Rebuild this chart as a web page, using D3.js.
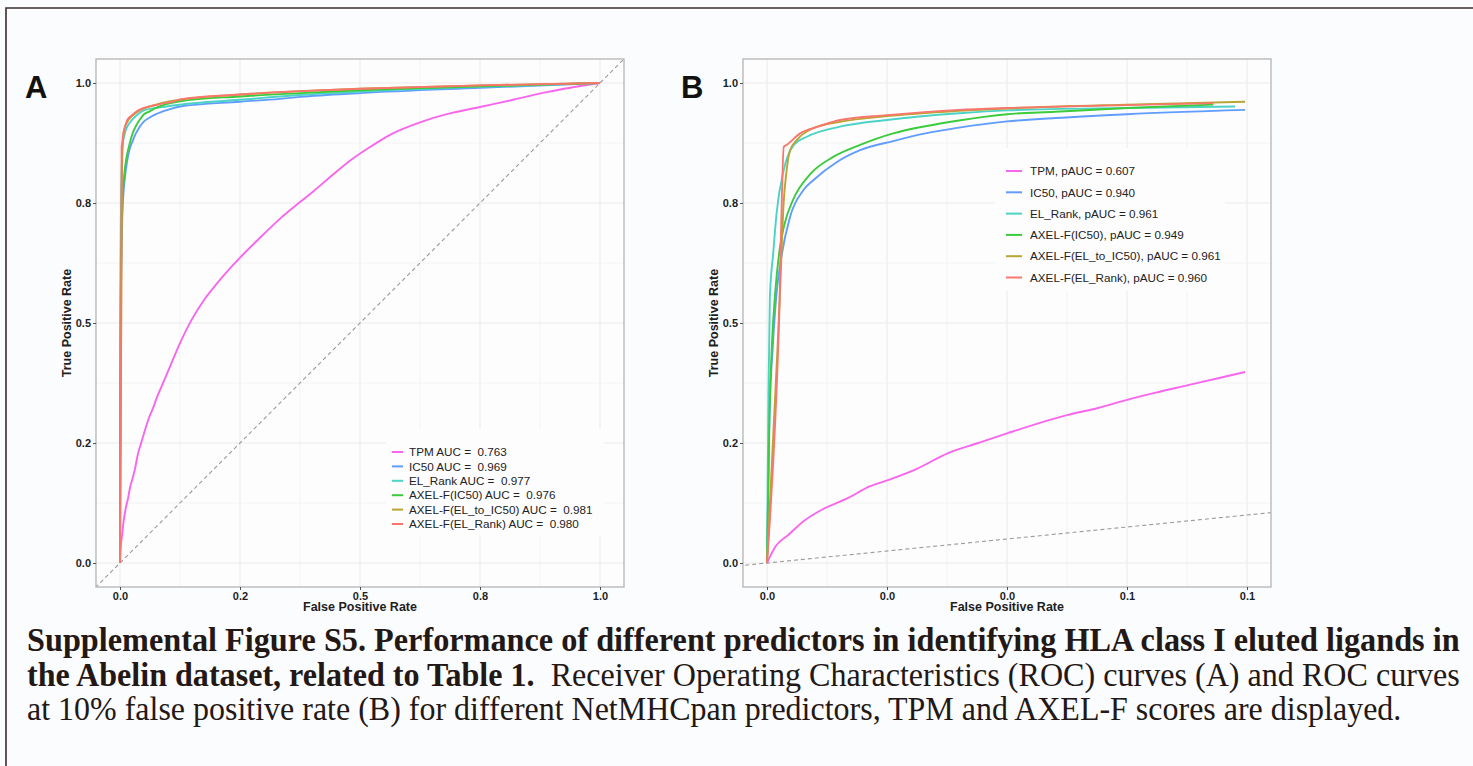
<!DOCTYPE html>
<html>
<head>
<meta charset="utf-8">
<script src="https://cdn.jsdelivr.net/npm/d3@7"></script>
<style>
  body { margin: 0; background: #fbfcfe; }
  svg { display: block; }
</style>
</head>
<body>
<script>
// series, in legend order
const seriesNames = ["TPM", "IC50", "EL_Rank", "AXEL-F(IC50)", "AXEL-F(EL_to_IC50)", "AXEL-F(EL_Rank)"];
const seriesColors = ["#f866ee", "#619cff", "#4cd3c6", "#3bcb3b", "#b8a532", "#f8766d"];

const aucA = ["0.763", "0.969", "0.977", "0.976", "0.981", "0.980"];
const pAucB = ["0.607", "0.940", "0.961", "0.949", "0.961", "0.960"];

// tick values and the (rounded) labels printed on the figure
const rateTicks = [0, 0.25, 0.5, 0.75, 1];
const rateTickLabels = ["0.0", "0.2", "0.5", "0.8", "1.0"];
const fprTicksB = [0, 0.025, 0.05, 0.075, 0.1];
const fprTickLabelsB = ["0.0", "0.0", "0.0", "0.1", "0.1"];

// ROC curves: [false positive rate, true positive rate]
const rocTPM = [[0,0],[0.0018,0.035],[0.0045,0.059],[0.0076,0.087],[0.0114,0.111],[0.0168,0.135],[0.0215,0.16],
  [0.025,0.172],[0.031,0.195],[0.0375,0.228],[0.044,0.25],[0.05,0.27],[0.0562,0.29],[0.0625,0.308],[0.069,0.323],
  [0.075,0.34],[0.081,0.355],[0.0875,0.37],[0.094,0.385],[0.0996,0.398],[0.125,0.458],[0.15,0.508],[0.175,0.548],
  [0.2,0.58],[0.25,0.636],[0.29,0.676],[0.333,0.717],[0.375,0.752],[0.4,0.772],[0.433,0.8],[0.479,0.838],
  [0.52,0.866],[0.5625,0.892],[0.631,0.92],[0.681,0.935],[0.75,0.95],[0.819,0.965],[0.889,0.981],[1,1]];
const rocIC50 = [[0,0],[0.0005,0.3],[0.0012,0.45],[0.002,0.5625],[0.003,0.638],[0.0048,0.721],[0.0076,0.777],
  [0.0097,0.798],[0.0145,0.835],[0.0194,0.86],[0.0263,0.879],[0.033,0.895],[0.04,0.907],[0.05,0.92],[0.06,0.927],
  [0.075,0.935],[0.0996,0.944],[0.125,0.951],[0.25,0.961],[0.333,0.967],[0.375,0.971],[0.5,0.979],[0.75,0.99],[1,1]];
const rocELRank = [[0,0],[0.0003,0.35],[0.0006,0.554],[0.0013,0.646],[0.002,0.729],[0.0035,0.819],[0.0056,0.871],
  [0.0083,0.888],[0.0152,0.909],[0.025,0.923],[0.04,0.937],[0.05,0.943],[0.075,0.948],[0.0975,0.951],[0.11,0.953],
  [0.125,0.955],[0.25,0.965],[0.375,0.975],[0.5,0.982],[0.75,0.992],[1,1]];
const rocAxelIC50 = [[0,0],[0.0005,0.3],[0.001,0.45],[0.0017,0.5625],[0.0027,0.658],[0.0037,0.708],[0.0054,0.756],
  [0.009,0.81],[0.0138,0.846],[0.0194,0.871],[0.0263,0.895],[0.033,0.91],[0.04,0.922],[0.05,0.935],[0.06,0.94],
  [0.075,0.948],[0.093,0.955],[0.11,0.959],[0.125,0.962],[0.25,0.972],[0.375,0.979],[0.5,0.985],[0.75,0.993],[1,1]];
const rocAxelELtoIC50 = [[0,0],[0.0022,0.45],[0.0027,0.5625],[0.0035,0.756],[0.004,0.81],[0.0048,0.86],[0.0062,0.881],
  [0.0097,0.906],[0.0152,0.919],[0.025,0.931],[0.04,0.942],[0.05,0.947],[0.075,0.955],[0.0996,0.961],[0.125,0.965],
  [0.25,0.976],[0.375,0.983],[0.5,0.988],[0.75,0.995],[1,1]];
const rocAxelELRank = [[0,0],[0.0025,0.5],[0.0035,0.867],[0.0041,0.871],[0.0069,0.895],[0.011,0.91],[0.0152,0.923],
  [0.025,0.933],[0.04,0.944],[0.05,0.948],[0.075,0.954],[0.093,0.958],[0.11,0.961],[0.125,0.966],[0.25,0.976],
  [0.375,0.983],[0.5,0.988],[0.75,0.995],[1,1]];

const rocCurves = [rocTPM, rocIC50, rocELRank, rocAxelIC50, rocAxelELtoIC50, rocAxelELRank];

const captionLines = [
  [{ t: "Supplemental Figure S5. Performance of different predictors in identifying HLA class I eluted ligands in", b: true }],
  [{ t: "the Abelin dataset, related to Table 1.", b: true },
   { t: "  Receiver Operating Characteristics (ROC) curves (A) and ROC curves", b: false }],
  [{ t: "at 10% false positive rate (B) for different NetMHCpan predictors, TPM and AXEL-F scores are displayed.", b: false }]
];

const width = 1473, height = 766;
const ink = "#1e1e1e";
const sans = "'Liberation Sans', Arial, sans-serif";

const svg = d3.select("body").append("svg")
  .attr("width", width)
  .attr("height", height);

svg.append("rect").attr("width", width).attr("height", height).attr("fill", "#fbfcfe");

// frame of the page scan
svg.append("path")
  .attr("d", `M6,${height} V8 H${width}`)
  .attr("fill", "none")
  .attr("stroke", "#3b2d2c")
  .attr("stroke-width", 1.6);

const drawPanel = p => {
  const top = 59, bottom = 587;
  const x = d3.scaleLinear().domain(p.xDomain).range([p.left, p.left + 528]);
  const y = d3.scaleLinear().domain([-0.05, 1.05]).range([bottom, top]);
  const g = svg.append("g");

  g.append("rect")
    .attr("x", p.left).attr("y", top)
    .attr("width", 528).attr("height", bottom - top)
    .attr("fill", "#fdfdfe");

  const mid = ticks => d3.pairs(ticks).map(([a, b]) => (a + b) / 2);

  // grid, minor then major
  const grid = (vals, col, w) => {
    g.append("g").selectAll("line").data(vals).join("line")
      .attr("x1", d => x(d)).attr("x2", d => x(d))
      .attr("y1", top).attr("y2", bottom)
      .attr("stroke", col).attr("stroke-width", w);
  };
  const gridY = (vals, col, w) => {
    g.append("g").selectAll("line").data(vals).join("line")
      .attr("x1", p.left).attr("x2", p.left + 528)
      .attr("y1", d => y(d)).attr("y2", d => y(d))
      .attr("stroke", col).attr("stroke-width", w);
  };
  grid(mid(p.xTicks), "#f3f3f4", 1);
  gridY(mid(rateTicks), "#f3f3f4", 1);
  grid(p.xTicks, "#ebebec", 1.1);
  gridY(rateTicks, "#ebebec", 1.1);

  const clipId = `clip-${p.letter}`;
  g.append("clipPath").attr("id", clipId)
    .append("rect")
    .attr("x", p.left).attr("y", top)
    .attr("width", 528).attr("height", bottom - top);

  const plot = g.append("g").attr("clip-path", `url(#${clipId})`);

  // y = x reference
  plot.append("line")
    .attr("x1", x(-1)).attr("y1", y(-1))
    .attr("x2", x(2)).attr("y2", y(2))
    .attr("stroke", "#9a9a9a")
    .attr("stroke-width", 1.1)
    .attr("stroke-dasharray", "4,3");

  const line = d3.line()
    .x(d => x(d[0]))
    .y(d => y(d[1]))
    .curve(d3.curveMonotoneX);
  rocCurves.forEach((pts, i) => {
    plot.append("path")
      .datum(pts.filter(d => d[0] <= p.xMax))
      .attr("d", line)
      .attr("fill", "none")
      .attr("stroke", seriesColors[i])
      .attr("stroke-width", 1.9)
      .attr("stroke-linejoin", "round");
  });

  g.append("rect")
    .attr("x", p.left).attr("y", top)
    .attr("width", 528).attr("height", bottom - top)
    .attr("fill", "none")
    .attr("stroke", "#b9b9b9")
    .attr("stroke-width", 1.4);

  // axes
  const styleAxis = a => {
    a.select(".domain").remove();
    a.selectAll(".tick line").attr("stroke", "#555");
    a.selectAll(".tick text")
      .attr("fill", ink)
      .style("font", `bold 11px ${sans}`);
  };
  g.append("g")
    .attr("transform", `translate(${p.left},0)`)
    .call(d3.axisLeft(y).tickValues(rateTicks).tickFormat((d, i) => rateTickLabels[i]).tickSize(3).tickPadding(2))
    .call(styleAxis);
  g.append("g")
    .attr("transform", `translate(0,${bottom})`)
    .call(d3.axisBottom(x).tickValues(p.xTicks).tickFormat((d, i) => p.xTickLabels[i]).tickSize(3).tickPadding(2))
    .call(styleAxis);

  g.append("text")
    .attr("x", x((p.xDomain[0] + p.xDomain[1]) / 2))
    .attr("y", 611)
    .attr("text-anchor", "middle")
    .attr("fill", ink)
    .style("font", `bold 12.5px ${sans}`)
    .text("False Positive Rate");
  g.append("text")
    .attr("transform", `translate(${p.left - 25},${(top + bottom) / 2}) rotate(-90)`)
    .attr("text-anchor", "middle")
    .attr("fill", ink)
    .style("font", `bold 12.5px ${sans}`)
    .text("True Positive Rate");

  g.append("text")
    .attr("x", p.letterX).attr("y", 98)
    .attr("fill", "#111")
    .style("font", `bold 31px ${sans}`)
    .text(p.letter);

  // legend
  const L = p.legend;
  g.append("rect")
    .attr("x", L.x).attr("y", L.y)
    .attr("width", L.w).attr("height", L.h)
    .attr("fill", "#fdfdfe");
  const rows = g.append("g").selectAll("g").data(seriesNames).join("g")
    .attr("transform", (d, i) => `translate(0,${L.row0 + i * L.step})`);
  rows.append("line")
    .attr("x1", L.keyX).attr("x2", L.keyX + L.keyW)
    .attr("stroke", (d, i) => seriesColors[i])
    .attr("stroke-width", 2);
  rows.append("text")
    .attr("x", L.textX).attr("dy", "0.36em")
    .attr("fill", "#222")
    .style("font", `11.7px ${sans}`)
    .style("white-space", "pre")
    .text((d, i) => p.label(d, i));
};

drawPanel({
  letter: "A",
  letterX: 25,
  left: 96,
  xDomain: [-0.05, 1.05],
  xMax: 1,
  xTicks: rateTicks,
  xTickLabels: rateTickLabels,
  label: (d, i) => `${d} AUC =  ${aucA[i]}`,
  legend: { x: 386, y: 428, w: 218, h: 107, row0: 452, step: 14.4, keyX: 392, keyW: 11, textX: 409 }
});

drawPanel({
  letter: "B",
  letterX: 681,
  left: 743,
  xDomain: [-0.005, 0.105],
  xMax: 0.1,
  xTicks: fprTicksB,
  xTickLabels: fprTickLabelsB,
  label: (d, i) => `${d}, pAUC = ${pAucB[i]}`,
  legend: { x: 995, y: 148, w: 230, h: 143, row0: 171, step: 21.3, keyX: 1006, keyW: 16, textX: 1030 }
});

// caption, condensed like the scanned serif text
const captionBase = [651, 686, 720];
const captionWidth = [1433, 1433, 1375];
captionLines.forEach((parts, i) => {
  const t = svg.append("text")
    .attr("fill", "#231815")
    .style("font-family", "'Liberation Serif', 'Times New Roman', serif")
    .style("font-size", "33px")
    .style("white-space", "pre");
  parts.forEach(s => {
    t.append("tspan")
      .style("font-weight", s.b ? "bold" : "normal")
      .text(s.t);
  });
  const w = t.node().getComputedTextLength();
  t.attr("transform", `translate(27,${captionBase[i]}) scale(${captionWidth[i] / w},1)`);
});
</script>
</body>
</html>
